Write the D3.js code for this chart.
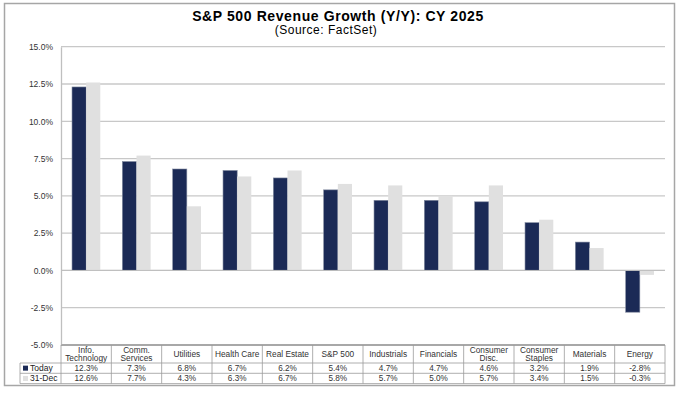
<!DOCTYPE html>
<html>
<head>
<meta charset="utf-8">
<script src="https://cdn.jsdelivr.net/npm/d3@7"></script>
<style>
  body { margin: 0; background: #fff; }
  text { font-family: "Liberation Sans", Arial, sans-serif; }
</style>
</head>
<body>
<svg></svg>
<script>
var width = 687;
var height = 399;

// data
var categories = ["Info.\nTechnology", "Comm.\nServices", "Utilities", "Health Care", "Real Estate", "S&P 500",
  "Industrials", "Financials", "Consumer\nDisc.", "Consumer\nStaples", "Materials", "Energy"];
var seriesNames = ["Today", "31-Dec"];
var today = [12.3, 7.3, 6.8, 6.7, 6.2, 5.4, 4.7, 4.7, 4.6, 3.2, 1.9, -2.8];
var dec31 = [12.6, 7.7, 4.3, 6.3, 6.7, 5.8, 5.7, 5.0, 5.7, 3.4, 1.5, -0.3];
var yTicks = [-5, -2.5, 0, 2.5, 5, 7.5, 10, 12.5, 15];
var colors = ["#1b2a56", "#e0e0e0"];

// plain hyphen for negatives, like the excel table
var fmt = d3.formatLocale({decimal: ".", thousands: ",", grouping: [3], currency: ["$", ""], minus: "-"}).format(".1f");
function pct(d) { return fmt(d) + "%"; }

var svg = d3.select("svg")
  .attr("width", width)
  .attr("height", height);

// outer frame
svg.append("rect")
  .attr("x", 4.5).attr("y", 3.5)
  .attr("width", 670).attr("height", 382)
  .attr("fill", "#fff")
  .attr("stroke", "#a6a6a6")
  .attr("stroke-width", 1.5);

svg.append("text")
  .attr("x", 338).attr("y", 21)
  .attr("text-anchor", "middle")
  .style("font-size", "14px").style("font-weight", "bold")
  .style("letter-spacing", "0.6px")
  .text("S&P 500 Revenue Growth (Y/Y):  CY 2025");

svg.append("text")
  .attr("x", 326).attr("y", 34)
  .attr("text-anchor", "middle")
  .style("font-size", "12px")
  .style("letter-spacing", "0.5px")
  .text("(Source: FactSet)");

var plotLeft = 61, plotRight = 665, plotTop = 46.7, plotBottom = 345;

var x = d3.scaleBand()
  .domain(d3.range(categories.length))
  .range([plotLeft, plotRight]);

var xInner = d3.scaleBand()
  .domain([0, 1])
  .range([0, x.bandwidth()])
  .paddingInner(0)
  .paddingOuter(0.78);

var y = d3.scaleLinear()
  .domain([-5, 15])
  .range([plotBottom, plotTop]);

// gridlines
svg.append("g").selectAll("line")
  .data(yTicks)
  .enter().append("line")
    .attr("x1", plotLeft).attr("x2", plotRight)
    .attr("y1", function(d) { return y(d); })
    .attr("y2", function(d) { return y(d); })
    .attr("stroke", function(d) { return d == -5 ? "#999" : "#c8c8c8"; })
    .attr("stroke-width", 1.3);

// y axis
var yAxis = svg.append("g")
  .attr("transform", "translate(" + plotLeft + ",0)")
  .call(d3.axisLeft(y).tickValues(yTicks).tickSize(0).tickPadding(8).tickFormat(pct));
yAxis.select(".domain").attr("stroke", "#bfbfbf").attr("stroke-width", 1.3);
yAxis.selectAll("text")
  .style("font-size", "8.5px")
  .attr("fill", "#333")
  .style("font-family", "Liberation Sans, Arial, sans-serif");

// bars
var series = [today, dec31];
series.forEach(function(vals, s) {
  svg.append("g").selectAll("rect")
    .data(vals)
    .enter().append("rect")
      .attr("x", function(d, i) { return x(i) + xInner(s); })
      .attr("width", xInner.bandwidth())
      .attr("y", function(d) { return y(Math.max(0, d)); })
      .attr("height", function(d) { return Math.abs(y(d) - y(0)); })
      .attr("fill", colors[s])
      .attr("stroke", s == 0 ? "#7d869c" : "none")
      .attr("stroke-width", 0.6);
});

// zero line
svg.append("line")
  .attr("x1", plotLeft).attr("x2", plotRight)
  .attr("y1", y(0)).attr("y2", y(0))
  .attr("stroke", "#bfbfbf").attr("stroke-width", 1);

// data table
var rowTop = plotBottom, headerH = 18, rowH = 10.3;
var legendLeft = 20;
var tableLineColor = "#9a9a9a";
var table = svg.append("g");

// header cells
categories.forEach(function(c, i) {
  var lines = c.split("\n");
  var cx = x(i) + x.bandwidth() / 2;
  var t = table.append("text")
    .attr("text-anchor", "middle")
    .attr("fill", "#333")
    .style("font-size", "8.3px");
  lines.forEach(function(l, k) {
    t.append("tspan")
      .attr("x", cx)
      .attr("y", rowTop + headerH / 2 + 3 + (k - (lines.length - 1) / 2) * 8.6)
      .text(l);
  });
});

// value rows
series.forEach(function(vals, s) {
  var ry = rowTop + headerH + s * rowH;
  vals.forEach(function(v, i) {
    table.append("text")
      .attr("x", x(i) + x.bandwidth() / 2)
      .attr("y", ry + rowH / 2 + 3)
      .attr("text-anchor", "middle")
      .attr("fill", "#333")
      .style("font-size", "8.2px")
      .text(pct(v));
  });
  table.append("rect")
    .attr("x", legendLeft + 3).attr("y", ry + rowH / 2 - 2.5)
    .attr("width", 5).attr("height", 5)
    .attr("fill", colors[s]);
  table.append("text")
    .attr("x", legendLeft + 10)
    .attr("y", ry + rowH / 2 + 3)
    .attr("fill", "#222")
    .style("font-size", "8.5px")
    .text(seriesNames[s]);
});

// table lines
var tableBottom = rowTop + headerH + 2 * rowH;
var hLines = [
  [plotLeft, plotRight, rowTop],
  [legendLeft, plotRight, rowTop + headerH],
  [legendLeft, plotRight, rowTop + headerH + rowH],
  [legendLeft, plotRight, tableBottom]
];
hLines.forEach(function(h) {
  table.append("line")
    .attr("x1", h[0]).attr("x2", h[1])
    .attr("y1", h[2]).attr("y2", h[2])
    .attr("stroke", tableLineColor).attr("stroke-width", 0.8);
});
table.append("line")
  .attr("x1", legendLeft).attr("x2", legendLeft)
  .attr("y1", rowTop + headerH).attr("y2", tableBottom)
  .attr("stroke", tableLineColor).attr("stroke-width", 0.8);
d3.range(categories.length + 1).forEach(function(i) {
  var xx = i < categories.length ? x(i) : plotRight;
  table.append("line")
    .attr("x1", xx).attr("x2", xx)
    .attr("y1", rowTop).attr("y2", tableBottom)
    .attr("stroke", tableLineColor).attr("stroke-width", 0.8);
});
</script>
</body>
</html>
